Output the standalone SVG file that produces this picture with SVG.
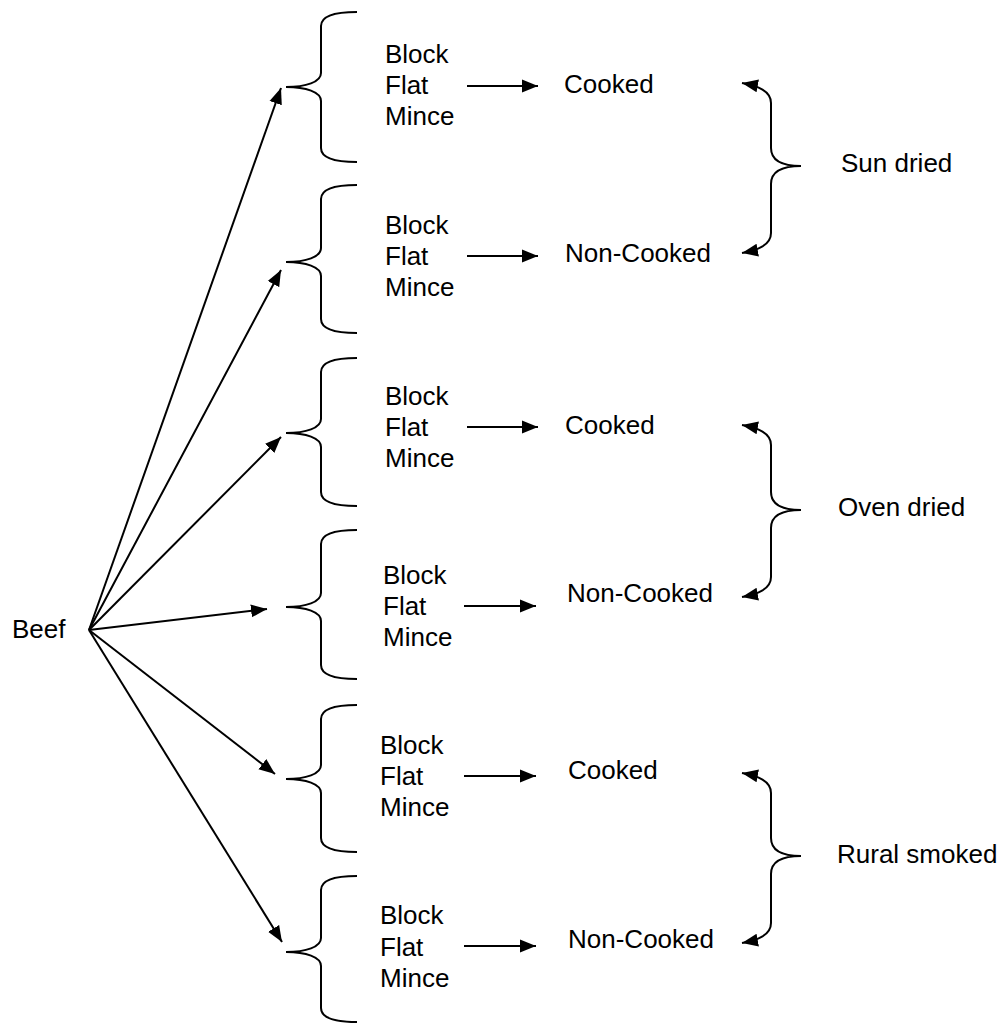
<svg xmlns="http://www.w3.org/2000/svg" width="1006" height="1024" viewBox="0 0 1006 1024">
<defs>
<marker id="ah" markerWidth="17" markerHeight="14" refX="16" refY="7" orient="auto-start-reverse" markerUnits="userSpaceOnUse">
<path d="M0,0.5 L16,7 L0,13.5 z" fill="#000"/>
</marker>
</defs>
<style>
text{font-family:"Liberation Sans",Arial,sans-serif;font-size:26px;fill:#000}
.br{fill:none;stroke:#000;stroke-width:2}
.ln{fill:none;stroke:#000;stroke-width:2;marker-end:url(#ah)}
.rb{fill:none;stroke:#000;stroke-width:2;marker-start:url(#ah);marker-end:url(#ah)}
</style>
<rect width="1006" height="1024" fill="#fff"/>
<g id="beef"><text x="12" y="638">Beef</text></g>
<g id="cuts1"><path class="br" d="M357,12 C338,12 321,15 321,26 L321,73 C321,82 306,87 286,87 C306,87 321,92 321,101 L321,148 C321,159 338,162 357,162"/><text x="385" y="63">Block</text><text x="385" y="94">Flat</text><text x="385" y="125">Mince</text></g>
<g id="cuts2"><path class="br" d="M357,185 C338,185 321,188 321,199 L321,248 C321,257 306,262 286,262 C306,262 321,267 321,276 L321,319 C321,330 338,333 357,333"/><text x="385" y="234">Block</text><text x="385" y="265">Flat</text><text x="385" y="296">Mince</text></g>
<g id="cuts3"><path class="br" d="M357,358 C338,358 321,361 321,372 L321,419 C321,428 306,433 286,433 C306,433 321,438 321,447 L321,492 C321,503 338,506 357,506"/><text x="385" y="405">Block</text><text x="385" y="436">Flat</text><text x="385" y="467">Mince</text></g>
<g id="cuts4"><path class="br" d="M357,530 C338,530 321,533 321,544 L321,593 C321,602 306,607 286,607 C306,607 321,612 321,621 L321,665 C321,676 338,679 357,679"/><text x="383" y="584">Block</text><text x="383" y="615">Flat</text><text x="383" y="646">Mince</text></g>
<g id="cuts5"><path class="br" d="M357,705 C338,705 321,708 321,719 L321,765 C321,774 306,779 286,779 C306,779 321,784 321,793 L321,838 C321,849 338,852 357,852"/><text x="380" y="754">Block</text><text x="380" y="785">Flat</text><text x="380" y="816">Mince</text></g>
<g id="cuts6"><path class="br" d="M357,876 C338,876 321,879 321,890 L321,938 C321,947 306,952 286,952 C306,952 321,957 321,966 L321,1008 C321,1019 338,1022 357,1022"/><text x="380" y="924">Block</text><text x="380" y="956">Flat</text><text x="380" y="987">Mince</text></g>
<g id="state1"><text x="564" y="93">Cooked</text></g>
<g id="state2"><text x="565" y="262">Non-Cooked</text></g>
<g id="state3"><text x="565" y="434">Cooked</text></g>
<g id="state4"><text x="567" y="602">Non-Cooked</text></g>
<g id="state5"><text x="568" y="779">Cooked</text></g>
<g id="state6"><text x="568" y="948">Non-Cooked</text></g>
<g id="sun"><path class="rb" d="M742,83 C758,86 771,91 771,103 L771,148 C771,160 780,166 801,166 C780,166 771,172 771,184 L771,233 C771,245 758,250 742,253"/><text x="841" y="172">Sun dried</text></g>
<g id="oven"><path class="rb" d="M742,425 C758,428 771,433 771,445 L771,492 C771,504 780,510 801,510 C780,510 771,516 771,528 L771,577 C771,589 758,594 742,597"/><text x="838" y="516">Oven dried</text></g>
<g id="rural"><path class="rb" d="M742,773 C758,776 771,781 771,793 L771,838 C771,850 780,856 801,856 C780,856 771,862 771,874 L771,923 C771,935 758,940 742,943"/><text x="837" y="863">Rural smoked</text></g>
<g id="connectors">
<line class="ln" x1="89" y1="630" x2="281" y2="88"/>
<line class="ln" x1="89" y1="630" x2="281" y2="270"/>
<line class="ln" x1="89" y1="630" x2="281" y2="437"/>
<line class="ln" x1="89" y1="630" x2="267" y2="609"/>
<line class="ln" x1="89" y1="630" x2="275" y2="774"/>
<line class="ln" x1="89" y1="630" x2="282" y2="942"/>
<line class="ln" x1="467" y1="86" x2="538" y2="86"/>
<line class="ln" x1="467" y1="256" x2="538" y2="256"/>
<line class="ln" x1="467" y1="427" x2="538" y2="427"/>
<line class="ln" x1="464" y1="606" x2="536" y2="606"/>
<line class="ln" x1="464" y1="776" x2="536" y2="776"/>
<line class="ln" x1="464" y1="946" x2="536" y2="946"/>
</g>
</svg>
